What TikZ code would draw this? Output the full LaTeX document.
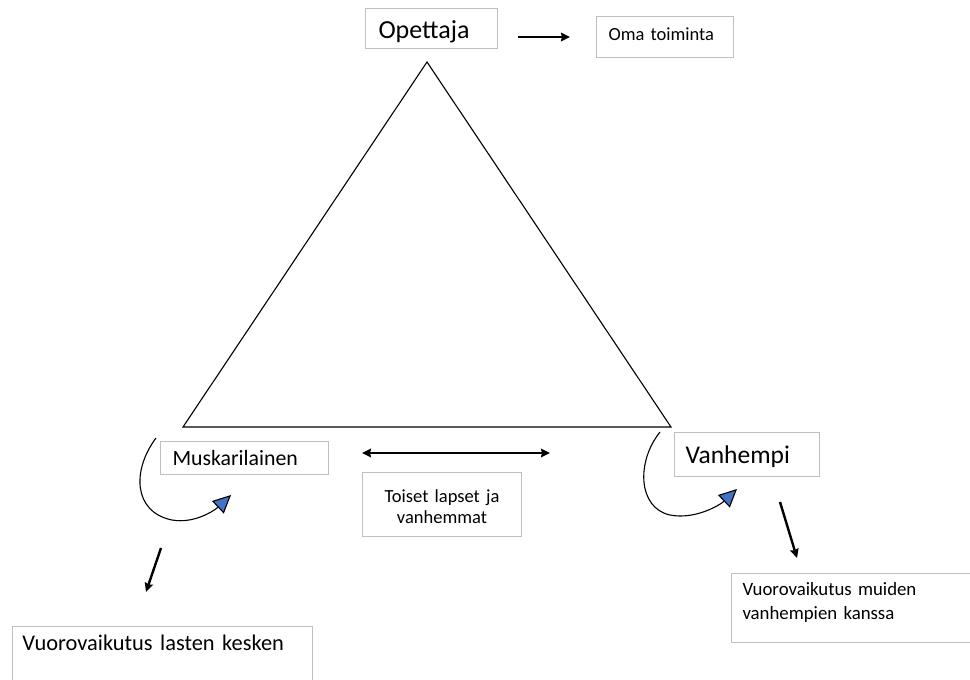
\documentclass[tikz,border=0pt]{standalone}
\usepackage{fontspec}
\setmainfont{Carlito}
\usetikzlibrary{arrows.meta}
\definecolor{boxgray}{HTML}{BFBFBF}
\definecolor{headblue}{HTML}{4472C4}
\tikzset{
  tbox/.style={draw=boxgray, line width=1pt, anchor=north west, inner ysep=0pt, align=left},
  thick arrow/.style={line width=2.4pt, -{Stealth[length=9pt,width=8.5pt,inset=1pt]}},
  loop arrow/.style={line width=1.1pt, -{Triangle[length=18pt,width=17pt,fill=headblue]}},
}
\begin{document}
\begin{tikzpicture}[x=1pt,y=-1pt]
\useasboundingbox (0,0) rectangle (970,680);
% triangle
\draw[line width=1.1pt, line join=miter] (427,62) -- (183,427) -- (671,427) -- cycle;
% boxes
\node[tbox, inner xsep=13pt, text width=106pt, text height=29.5pt, text depth=10.5pt,
      font=\fontsize{26}{30}\selectfont] (opet) at (365,8) {Opettaja};
\node[tbox, inner xsep=12pt, text width=113pt, text height=24pt, text depth=17pt,
      font=\fontsize{18.5}{22}\selectfont] (oma) at (596,16) {Oma toiminta};
\node[tbox, inner xsep=12pt, text width=144pt, text height=24pt, text depth=9pt,
      font=\fontsize{21.8}{25}\selectfont] (musk) at (160,441) {Muskarilainen};
\node[tbox, inner xsep=11pt, text width=123pt, text height=31pt, text depth=13pt,
      font=\fontsize{25.5}{29}\selectfont] (vanh) at (674,432) {Vanhempi};
\node[tbox, align=center, inner xsep=5pt, text width=149pt, text height=30pt, text depth=34pt,
      font=\fontsize{18.5}{21}\selectfont] (toiset) at (362,472) {Toiset lapset ja\\vanhemmat};
\node[tbox, inner xsep=10pt, text width=280pt, text height=24pt, text depth=40pt,
      font=\fontsize{22.4}{26}\selectfont] (lasten) at (12,626) {Vuorovaikutus lasten kesken};
\node[tbox, inner xsep=11pt, text width=223pt, text height=22pt, text depth=47pt,
      font=\fontsize{18.8}{24}\selectfont] (muiden) at (731,573) {Vuorovaikutus muiden\\vanhempien kanssa};
% connectors
\coordinate (a1) at (518,37);
\coordinate (a2) at (570,37);
\draw[thick arrow] (a1) -- (a2);
\coordinate (d1) at (362,453);
\coordinate (d2) at (550,453);
\draw[line width=2.4pt, {Stealth[length=9pt,width=8.5pt,inset=1pt]}-{Stealth[length=9pt,width=8.5pt,inset=1pt]}] (d1) -- (d2);
\coordinate (l1) at (161,548);
\coordinate (l2) at (146,592);
\draw[thick arrow] (l1) -- (l2);
\coordinate (r1) at (780,502);
\coordinate (r2) at (797,558);
\draw[thick arrow] (r1) -- (r2);
% loop arrows
\coordinate (ls) at (156,438);
\coordinate (le) at (231,495);
\draw[loop arrow] (ls) .. controls (132,470) and (133,512) .. (172,520)
  .. controls (195,524) and (215,510) .. (le);
\coordinate (rs) at (660,432);
\coordinate (re) at (737,489);
\draw[loop arrow] (rs) .. controls (636,462) and (638,508) .. (670,515)
  .. controls (695,520) and (720,505) .. (re);
\end{tikzpicture}
\end{document}
